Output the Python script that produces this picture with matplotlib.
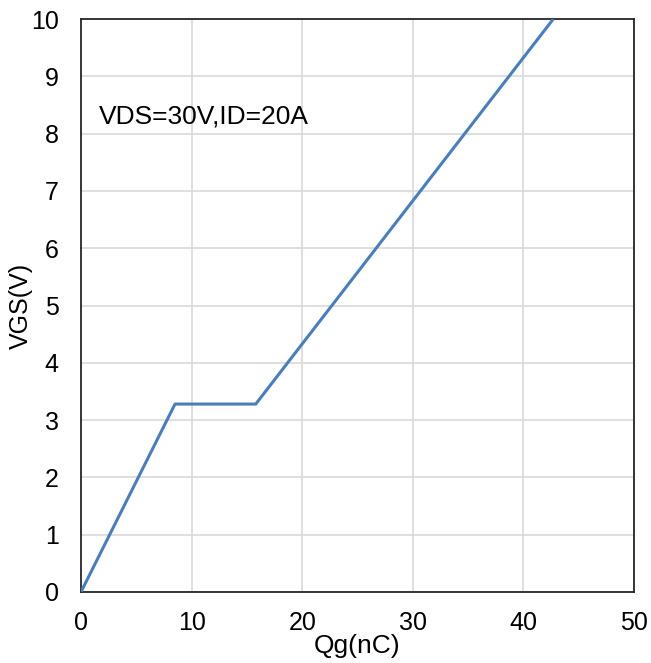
import matplotlib.pyplot as plt

plt.rcParams['font.family'] = ['Liberation Sans', 'DejaVu Sans']

# gate charge curve: Qg (nC) vs VGS (V)
qg = [0, 8.5, 15.8, 42.7]
vgs = [0, 3.28, 3.28, 10]

fig = plt.figure(figsize=(6.51, 6.63), dpi=100)
ax = fig.add_axes([0.1244, 0.1071, 0.8495, 0.8642])

ax.plot(qg, vgs, color='#4a7ebb', lw=2.2, solid_capstyle='butt', zorder=3)

ax.set_xlim(0, 50)
ax.set_ylim(0, 10)
ax.set_xticks(range(0, 51, 10))
ax.set_yticks(range(0, 11))
ax.grid(True, color='#d9d9d9', lw=1.2)
ax.tick_params(length=0, labelsize=18)
ax.tick_params(axis='x', pad=14)
ax.tick_params(axis='y', pad=16)
for s in ax.spines.values():
    s.set_color('#262626')
    s.set_linewidth(1.3)

ax.set_xlabel('Qg(nC)', fontsize=19)
ax.set_ylabel('VGS(V)', fontsize=18)
ax.xaxis.set_label_coords(0.5, -0.074)
ax.yaxis.set_label_coords(-0.087, 0.5)
ax.text(1.6, 8.3, 'VDS=30V,ID=20A', fontsize=19, va='center', ha='left')

fig.savefig('out.png', dpi=100)
